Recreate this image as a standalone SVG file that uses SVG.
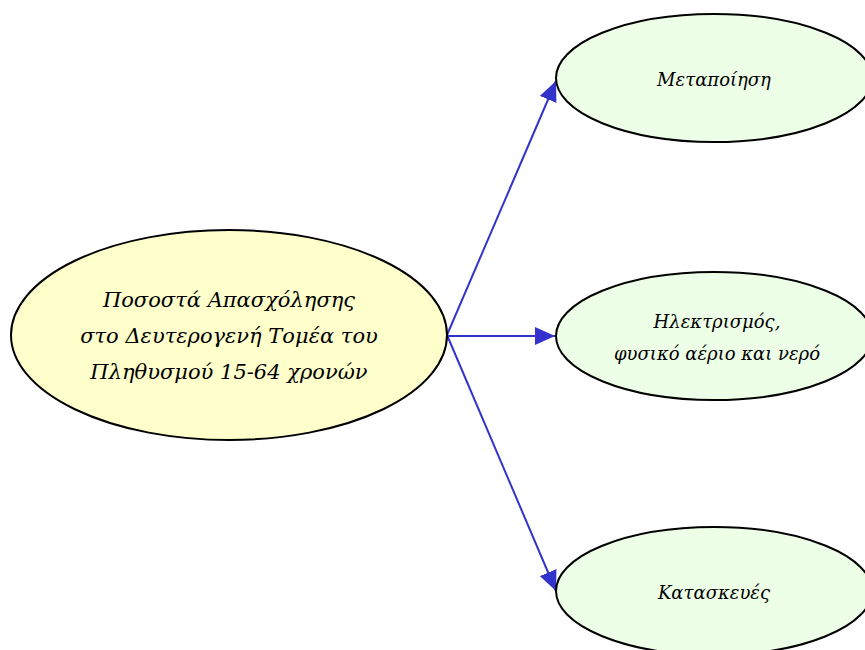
<svg xmlns="http://www.w3.org/2000/svg" width="865" height="650" viewBox="0 0 865 650">
<style>
.main{fill:#ffffcc;stroke:#000;stroke-width:2}
.sub{fill:#eeffe8;stroke:#000;stroke-width:2}
text{font-family:"DejaVu Serif","Liberation Serif",serif;font-style:italic;fill:#000;text-anchor:middle}
.big{font-size:21px}
.small{font-size:18px}
.conn line{stroke:#3333cc;stroke-width:2}
</style>
<defs>
<marker id="arrow" viewBox="0 0 20 18" refX="20" refY="9" markerWidth="20" markerHeight="18" markerUnits="userSpaceOnUse" orient="auto">
<path d="M0,0 L20,9 L0,18 z" fill="#3333cc"/>
</marker>
</defs>
<g id="connectors" class="conn">
<line x1="447" y1="335" x2="556" y2="81" marker-end="url(#arrow)"/>
<line x1="447" y1="336" x2="555" y2="336" marker-end="url(#arrow)"/>
<line x1="447" y1="335" x2="556" y2="591" marker-end="url(#arrow)"/>
</g>
<g id="main">
<ellipse class="main" cx="229" cy="335" rx="218" ry="105"/>
<text class="big" x="229" y="307">Ποσοστά Απασχόλησης</text>
<text class="big" x="229" y="343">στο Δευτερογενή Τομέα του</text>
<text class="big" x="229" y="379">Πληθυσμού 15-64 χρονών</text>
</g>
<g id="metapoiisi">
<ellipse class="sub" cx="714" cy="78" rx="158" ry="64"/>
<text class="small" x="714" y="86">Μεταποίηση</text>
</g>
<g id="ilektrismos">
<ellipse class="sub" cx="714" cy="336" rx="158" ry="64"/>
<text class="small" x="717" y="328">Ηλεκτρισμός,</text>
<text class="small" x="717" y="360">φυσικό αέριο και νερό</text>
</g>
<g id="kataskeves">
<ellipse class="sub" cx="714" cy="591" rx="158" ry="64"/>
<text class="small" x="714" y="599">Κατασκευές</text>
</g>
</svg>
